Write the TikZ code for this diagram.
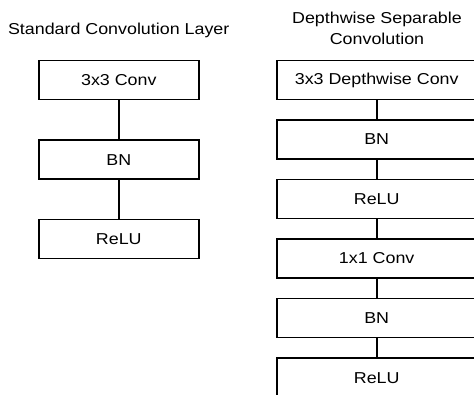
\documentclass[tikz,border=0pt]{standalone}
\usepackage{fontspec}
\setmainfont{Liberation Sans}[FakeStretch=1.13]
\begin{document}
\begin{tikzpicture}[x=1pt,y=-1pt,
  layer/.style={draw=black,line width=1.6pt,fill=white,inner sep=0pt,
    minimum height=39pt,font=\fontsize{15.8}{20.3}\selectfont},
  stdlayer/.style={layer,minimum width=160pt},
  dwlayer/.style={layer,minimum width=200pt},
  title/.style={inner sep=0pt,anchor=base,font=\fontsize{15.8}{20.3}\selectfont},
  link/.style={draw=black,line width=1.6pt}]
  % canvas
  \fill[white] (0,0) rectangle (474,395);
  \clip (0,0) rectangle (474,395);
  \useasboundingbox (0,0) rectangle (474,395);

  % standard convolution
  \node[title] (stdtitle) at (118.7,34.3) {Standard Convolution Layer};
  \node[stdlayer] (s1) at (118.8,80)  {3x3 Conv};
  \node[stdlayer] (s2) at (118.8,159.6) {BN};
  \node[stdlayer] (s3) at (118.8,239.2) {ReLU};
  \draw[link] (s1.south) -- (s2.north);
  \draw[link] (s2.south) -- (s3.north);

  % depthwise separable convolution
  \node[title] (dwtitleA) at (377,24) {Depthwise Separable};
  \node[title] (dwtitleB) at (377,44.3) {Convolution};
  \node[dwlayer] (d1) at (376.7,80)    {3x3 Depthwise Conv};
  \node[dwlayer] (d2) at (376.7,139.5) {BN};
  \node[dwlayer] (d3) at (376.7,199.2) {ReLU};
  \node[dwlayer] (d4) at (376.7,258.5) {1x1 Conv};
  \node[dwlayer] (d5) at (376.7,318.2) {BN};
  \node[dwlayer] (d6) at (376.7,377.8) {ReLU};
  \draw[link] (d1.south) -- (d2.north);
  \draw[link] (d2.south) -- (d3.north);
  \draw[link] (d3.south) -- (d4.north);
  \draw[link] (d4.south) -- (d5.north);
  \draw[link] (d5.south) -- (d6.north);
\end{tikzpicture}
\end{document}
